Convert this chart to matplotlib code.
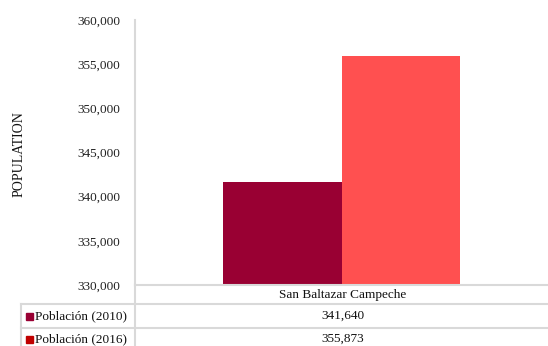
import matplotlib
matplotlib.use("Agg")
import matplotlib.pyplot as plt
from matplotlib.lines import Line2D
from matplotlib.patches import Rectangle

category = "San Baltazar Campeche"
series_names = ["Población (2010)", "Población (2016)"]
values = [341640, 355873]
bar_colors = ["#990033", "#FF5050"]
legend_colors = ["#990033", "#C00000"]
yticks = [330000, 335000, 340000, 345000, 350000, 355000, 360000]

plt.rcParams['font.family'] = ['Liberation Serif', 'DejaVu Serif']

W, H = 548, 346
fig = plt.figure(figsize=(W/100, H/100), dpi=100)
fx = lambda px: px / W
fy = lambda py: 1 - py / H

ax = fig.add_axes([fx(135), fy(285), fx(548) - fx(135), fy(20) - fy(285)])
bw = 0.288
for i, (v, c) in enumerate(zip(values, bar_colors)):
    ax.bar((i - 0.5) * bw, v - yticks[0], bottom=yticks[0], width=bw, color=c, align='center')
ax.set_xlim(-0.5, 0.5)
ax.set_ylim(yticks[0], yticks[-1])
ax.set_yticks(yticks)
ax.set_yticklabels([f"{t:,}" for t in yticks], fontsize=9.5, color="#222222")
ax.tick_params(axis='y', length=0, pad=10.5)
ax.set_xticks([])
for s in ['top', 'right', 'bottom']:
    ax.spines[s].set_visible(False)
ax.spines['left'].set_color('#D9D9D9')
ax.spines['left'].set_linewidth(1.5)
fig.text(fx(19), fy(154), "POPULATION", rotation=90, ha='center', va='center', fontsize=10, color="#111111")

lc = '#D9D9D9'
lw = 1.5
def hline(y, x0, x1):
    fig.add_artist(Line2D([fx(x0), fx(x1)], [fy(y), fy(y)], color=lc, lw=lw))
def vline(x, y0, y1):
    fig.add_artist(Line2D([fx(x), fx(x)], [fy(y0), fy(y1)], color=lc, lw=lw))

hline(285, 135, 548)
hline(304, 21, 548)
hline(328, 21, 548)
vline(135, 285, 346)
vline(21, 304, 346)

fig.text(fx(343), fy(295), category, ha='center', va='center', fontsize=9.5, color="#111111")
row_y = [316, 339]
for name, v, c, ry in zip(series_names, values, legend_colors, row_y):
    fig.add_artist(Rectangle((fx(26), fy(ry + 3.5)), fx(7), fy(0) - fy(7), color=c, transform=fig.transFigure))
    fig.text(fx(35), fy(ry), name, ha='left', va='center', fontsize=9.5, color="#111111")
    fig.text(fx(343), fy(ry), f"{v:,}", ha='center', va='center', fontsize=9.5, color="#111111")

fig.savefig("out.png", dpi=100)
